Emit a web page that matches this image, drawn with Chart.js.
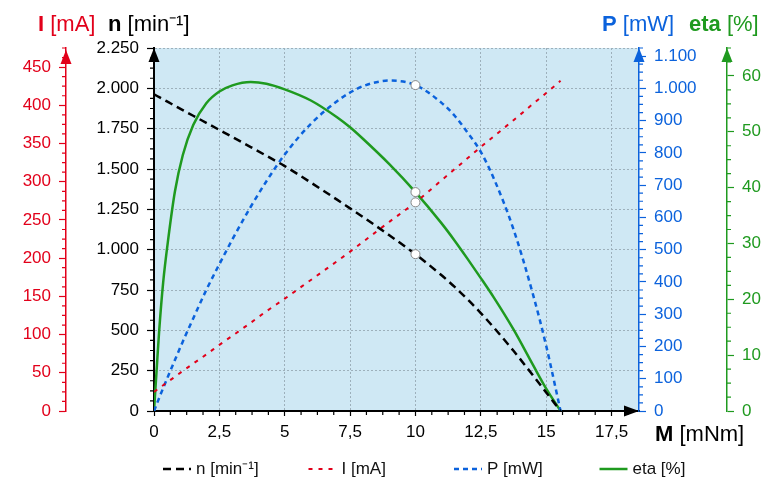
<!DOCTYPE html>
<html>
<head>
<meta charset="utf-8">
<script src="https://cdn.jsdelivr.net/npm/chart.js@4.4.1/dist/chart.umd.min.js"></script>
<style>
  html, body { margin: 0; padding: 0; background: #fff; }
  #wrap { width: 779px; height: 481px; position: relative; }
</style>
</head>
<body>
<div id="wrap"><canvas id="motor_chart"></canvas></div>
<script>
// torque M [mNm] where the curves were read
const torque     = [0, 0.1, 0.2, 0.35, 0.55, 0.8, 1.1, 1.5, 2, 2.5, 3, 3.7, 4.3, 5, 6, 7, 7.5, 8, 9, 10, 11, 11.5, 12, 12.5, 13, 13.75, 14.5, 15, 15.55];
const speed      = [1963, 1954, 1945, 1932, 1914, 1892, 1865, 1830, 1786, 1742, 1698, 1636, 1582, 1518, 1416, 1310, 1256, 1202, 1089, 972, 841, 769, 691, 607, 517, 373, 220, 115, 0];
const current    = [25, 27.5, 30, 33.7, 38.6, 44.8, 52.3, 62, 74, 86.5, 98.5, 115.5, 130.5, 147, 171.5, 196, 208.5, 221.5, 247.5, 273, 302, 316.5, 331, 345.5, 359.5, 380.5, 402, 416, 432];
const power      = [0, 20, 41, 71, 110, 158, 215, 287, 375, 455, 532, 633, 712, 795, 890, 960, 987, 1007, 1024, 1010, 955, 915, 862, 803, 720, 563, 360, 202, 0];
const efficiency = [0, 7.3, 14.5, 23, 31, 39.3, 45.8, 51.2, 55.1, 57.2, 58.3, 58.9, 58.6, 57.6, 55.6, 52.6, 50.8, 48.7, 44.2, 39.2, 33.6, 30.5, 27.2, 23.8, 20.3, 14.6, 8.2, 4.0, 0];
const marker_torque = 10;

const series_labels = ["n [min⁻¹]", "I [mA]", "P [mW]", "eta [%]"];

const RED = "#e2001a";
const BLUE = "#0b62dc";
const GREEN = "#1f9a1f";
const GRID = "#9db0bb";
const FONT = "'Liberation Sans', Arial, sans-serif";

function de_number(v) {
  let parts = String(Math.round(v * 1000) / 1000).split(".");
  parts[0] = parts[0].replace(/\B(?=(\d{3})+(?!\d))/g, ".");
  return parts.join(",");
}

function points(values) {
  return torque.map((m, i) => ({x: m, y: values[i]}));
}

function line_set(label, values, axis, color, width, dash) {
  return {
    label: label,
    data: points(values),
    yAxisID: axis,
    borderColor: color,
    borderWidth: width,
    borderDash: dash,
    cubicInterpolationMode: "monotone",
    pointRadius: c => torque[c.dataIndex] === marker_torque ? 4.5 : 0,
    pointBackgroundColor: "#fff",
    pointBorderColor: "#888",
    pointBorderWidth: 1
  };
}

function y_axis(pos, weight, max, step, color, width, on_area) {
  return {
    type: "linear",
    position: pos,
    weight: weight,
    min: 0,
    max: max,
    ticks: {
      stepSize: step,
      includeBounds: false,
      color: color,
      padding: 8,
      font: {family: FONT, size: 17},
      callback: v => de_number(v)
    },
    grid: {
      drawOnChartArea: on_area,
      color: GRID,
      lineWidth: 1,
      tickColor: color,
      tickWidth: 1.2,
      tickLength: 7
    },
    border: {color: color, width: color === "#000" ? 2 : 1.5, dash: [2, 2]},
    afterFit: s => { s.width = width; }
  };
}

function bold_title(ctx, bold, rest, x, y, color) {
  ctx.fillStyle = color;
  ctx.textBaseline = "middle";
  ctx.textAlign = "left";
  ctx.font = "bold 22px " + FONT;
  ctx.fillText(bold, x, y);
  x += ctx.measureText(bold).width;
  ctx.font = "22px " + FONT;
  ctx.fillText(rest, x, y);
}

function arrow(ctx, x, y, dir, color) {
  ctx.fillStyle = color;
  ctx.beginPath();
  ctx.moveTo(x, y);
  if (dir === "up") {
    ctx.lineTo(x - 5.5, y + 14);
    ctx.lineTo(x + 5.5, y + 14);
  } else {
    ctx.lineTo(x - 15, y - 5.5);
    ctx.lineTo(x - 15, y + 5.5);
  }
  ctx.closePath();
  ctx.fill();
}

function minor_ticks(ctx, s, step, major, len, color) {
  ctx.strokeStyle = color;
  ctx.lineWidth = 1.2;
  ctx.beginPath();
  for (let v = 0; v <= s.max + 1e-9; v += step) {
    if (Math.abs(v / major - Math.round(v / major)) < 1e-6) continue;
    let p = s.getPixelForValue(v);
    if (s.position === "left") { ctx.moveTo(s.right - len, p); ctx.lineTo(s.right, p); }
    else if (s.position === "right") { ctx.moveTo(s.left, p); ctx.lineTo(s.left + len, p); }
    else { ctx.moveTo(p, s.top); ctx.lineTo(p, s.top + len); }
  }
  ctx.stroke();
}

const decorations = {
  id: "decorations",
  beforeDraw(chart) {
    const {ctx, chartArea: a} = chart;
    ctx.save();
    ctx.fillStyle = "#cfe8f4";
    ctx.fillRect(a.left, a.top, a.right - a.left, a.bottom - a.top);
    ctx.restore();
  },
  afterDraw(chart) {
    const {ctx, chartArea: a, scales} = chart;
    ctx.save();
    minor_ticks(ctx, scales.x, 0.625, 2.5, 4, "#000");
    minor_ticks(ctx, scales.y_n, 62.5, 250, 4, "#000");
    minor_ticks(ctx, scales.y_i, 12.5, 50, 4, RED);
    minor_ticks(ctx, scales.y_p, 25, 100, 4, BLUE);
    minor_ticks(ctx, scales.y_eta, 2.5, 10, 4, GREEN);

    arrow(ctx, a.left, a.top, "up", "#000");
    arrow(ctx, scales.y_i.right, a.top + 2, "up", RED);
    arrow(ctx, a.right, a.top, "up", BLUE);
    arrow(ctx, scales.y_eta.left, a.top, "up", GREEN);
    arrow(ctx, a.right, a.bottom, "right", "#000");

    bold_title(ctx, "I", " [mA]", scales.y_i.right - 28, 25, RED);
    bold_title(ctx, "n", " [min⁻¹]", a.left - 46, 25, "#000");
    bold_title(ctx, "P", " [mW]", a.right - 37, 25, BLUE);
    bold_title(ctx, "eta", " [%]", scales.y_eta.left - 38, 25, GREEN);
    bold_title(ctx, "M", " [mNm]", a.right + 16, 435, "#000");

    // legend row
    chart.data.datasets.forEach((ds, i) => {
      let x0 = 163 + i * 145.5;
      let y0 = 469;
      ctx.strokeStyle = ds.borderColor;
      ctx.lineWidth = ds.borderWidth;
      ctx.setLineDash(ds.borderDash || []);
      ctx.beginPath();
      ctx.moveTo(x0, y0);
      ctx.lineTo(x0 + 28, y0);
      ctx.stroke();
      ctx.setLineDash([]);
      ctx.fillStyle = "#111";
      ctx.font = "17px " + FONT;
      ctx.textBaseline = "middle";
      ctx.textAlign = "left";
      ctx.fillText(ds.label, x0 + 33, y0);
    });
    ctx.restore();
  }
};

new Chart(document.getElementById("motor_chart"), {
  type: "line",
  data: {
    datasets: [
      line_set(series_labels[0], speed, "y_n", "#000", 2.5, [8, 5]),
      line_set(series_labels[1], current, "y_i", RED, 2, [4, 6]),
      line_set(series_labels[2], power, "y_p", BLUE, 2.5, [5, 4]),
      line_set(series_labels[3], efficiency, "y_eta", GREEN, 2.5, [])
    ]
  },
  options: {
    responsive: true,
    maintainAspectRatio: false,
    animation: false,
    events: [],
    layout: {padding: {top: 48, left: 0, right: 0, bottom: 0}},
    plugins: {legend: {display: false}, tooltip: {enabled: false}},
    scales: {
      x: {
        type: "linear",
        position: "bottom",
        min: 0,
        max: 18.55,
        ticks: {
          stepSize: 2.5,
          includeBounds: false,
          color: "#000",
          padding: 6,
          maxRotation: 0,
          font: {family: FONT, size: 17},
          callback: v => de_number(v)
        },
        grid: {color: GRID, lineWidth: 1, tickColor: "#000", tickWidth: 1.2, tickLength: 5},
        border: {color: "#000", width: 2, dash: [2, 2]},
        afterFit: s => { s.height = 70; }
      },
      y_i: y_axis("left", 2, 475, 50, RED, 66, false),
      y_n: y_axis("left", 1, 2250, 250, "#000", 88, true),
      y_p: y_axis("right", 1, 1125, 100, BLUE, 88, false),
      y_eta: y_axis("right", 2, 65, 10, GREEN, 52, false)
    }
  },
  plugins: [decorations]
});
</script>
</body>
</html>
